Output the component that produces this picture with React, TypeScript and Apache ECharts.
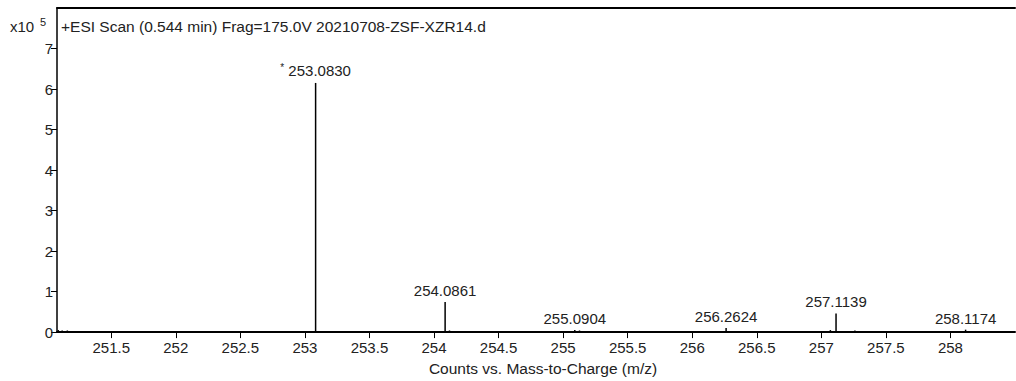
import React, { useEffect, useRef } from "react";
import * as echarts from "echarts";

const xMin = 251.08;
const xMax = 258.5;
const xTicks = [251.5, 252, 252.5, 253, 253.5, 254, 254.5, 255, 255.5, 256, 256.5, 257, 257.5, 258];
const yTicks = [0, 100000, 200000, 300000, 400000, 500000, 600000, 700000];
const yMax = 800000;

const peakMz = [253.083, 254.0861, 255.0904, 256.2624, 257.1139, 258.1174];
const peakLabels = ["253.0830", "254.0861", "255.0904", "256.2624", "257.1139", "258.1174"];
const peakCounts = [615000, 74000, 5000, 10000, 46000, 6000];

const minorMz = [251.09, 251.12, 251.16, 254.12, 255.127, 257.07, 257.26];
const minorCounts = [5000, 4000, 4000, 4000, 4000, 5000, 4000];

const titleText = "+ESI Scan (0.544 min) Frag=175.0V 20210708-ZSF-XZR14.d";
const xAxisName = "Counts vs. Mass-to-Charge (m/z)";

const FONT = "'Liberation Sans', Arial, sans-serif";
const TXT = "#222";

export default function App() {
  const ref = useRef<HTMLDivElement>(null);
  useEffect(() => {
    if (!ref.current) return;
    const chart = echarts.init(ref.current, null, { renderer: "svg" });
    chart.setOption({
      animation: false,
      backgroundColor: "#fff",
      textStyle: { fontFamily: FONT },
      grid: {
        left: 57,
        top: 8,
        right: 1,
        bottom: 46,
        show: false,
      },
      xAxis: [
        {
          type: "value",
          min: xMin,
          max: xMax,
          name: xAxisName,
          nameLocation: "middle",
          nameGap: 27,
          nameTextStyle: { fontSize: 15.5, color: TXT, fontFamily: FONT, padding: [0, 0, 0, 14] },
          axisLine: { show: true, onZero: false, lineStyle: { color: "#000", width: 2 } },
          axisTick: { show: true, length: 6, customValues: xTicks, lineStyle: { color: "#000", width: 1 } },
          axisLabel: {
            customValues: xTicks,
            fontSize: 15,
            color: TXT,
            fontFamily: FONT,
            margin: 8,
            formatter: (v: number) => String(v),
          },
          splitLine: { show: false },
        },
        {
          type: "value",
          position: "top",
          min: xMin,
          max: xMax,
          axisLine: { show: true, onZero: false, lineStyle: { color: "#000", width: 2 } },
          axisTick: { show: false },
          axisLabel: { show: false },
          splitLine: { show: false },
        },
      ],
      yAxis: {
        type: "value",
        min: 0,
        max: yMax,
        axisLine: { show: true, lineStyle: { color: "#000", width: 1.5 } },
        axisTick: { show: true, length: 6, customValues: yTicks, lineStyle: { color: "#000", width: 1 } },
        axisLabel: {
          customValues: yTicks,
          fontSize: 15,
          color: TXT,
          fontFamily: FONT,
          margin: 4,
          formatter: (v: number) => String(Math.round(v / 100000)),
        },
        splitLine: { show: false },
      },
      graphic: [
        { type: "text", x: 10, y: 26, style: { text: "x10", fontSize: 15, fill: TXT, fontFamily: FONT, verticalAlign: "middle" } },
        { type: "text", x: 40, y: 22, style: { text: "5", fontSize: 11, fill: TXT, fontFamily: FONT, verticalAlign: "middle" } },
        { type: "text", x: 61, y: 26, style: { text: titleText, fontSize: 15.5, fill: TXT, fontFamily: FONT, verticalAlign: "middle" } },
      ],
      series: [
        {
          type: "bar",
          xAxisIndex: 0,
          barWidth: 1.5,
          itemStyle: { color: "#000" },
          data: peakMz.map((m, i) => [m, peakCounts[i]]),
          label: {
            show: true,
            position: "top",
            distance: 4,
            fontSize: 15,
            color: TXT,
            fontFamily: FONT,
            formatter: (p: any) => (p.dataIndex === 0 ? "{a|*} " : "") + peakLabels[p.dataIndex],
            rich: { a: { fontSize: 10, color: TXT, padding: [0, 0, 6, 0] } },
          },
        },
        {
          type: "bar",
          xAxisIndex: 0,
          barWidth: 1.5,
          barGap: "-100%",
          itemStyle: { color: "#000" },
          data: minorMz.map((m, i) => [m, minorCounts[i]]),
        },
      ],
    });
    return () => chart.dispose();
  }, []);
  return (
    <div
      ref={ref}
      style={{ position: "fixed", left: 0, top: 0, width: 1016, height: 381, background: "#fff" }}
    />
  );
}
